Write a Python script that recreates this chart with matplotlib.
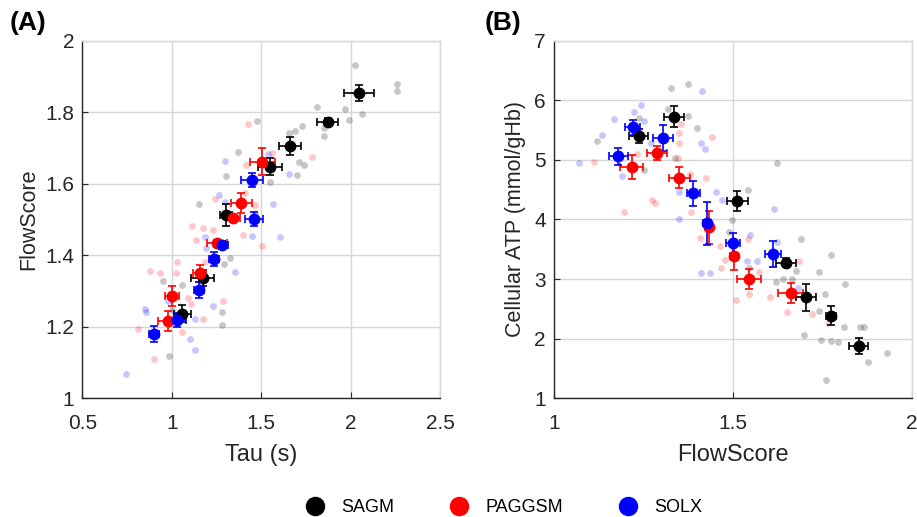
import numpy as np
import matplotlib
matplotlib.use("Agg")
import matplotlib.pyplot as plt
from matplotlib.lines import Line2D

plt.rcParams['font.family'] = ['Liberation Sans', 'DejaVu Sans']

groups = ['SAGM', 'PAGGSM', 'SOLX']
colors = ['#000000', '#ff0000', '#0000ff']

# ---- Panel A: Tau (s) vs FlowScore, group means with SEM ----
a_tau = {
    'SAGM':   [2.047, 1.871, 1.662, 1.552, 1.302, 1.172, 1.060],
    'PAGGSM': [1.506, 1.390, 1.343, 1.254, 1.157, 1.000, 0.979],
    'SOLX':   [1.450, 1.459, 1.282, 1.239, 1.155, 1.032, 0.901],
}
a_tau_err = {
    'SAGM':   [0.084, 0.058, 0.062, 0.067, 0.033, 0.065, 0.047],
    'PAGGSM': [0.069, 0.056, 0.037, 0.056, 0.037, 0.040, 0.056],
    'SOLX':   [0.062, 0.052, 0.034, 0.028, 0.028, 0.047, 0.028],
}
a_fs = {
    'SAGM':   [1.853, 1.773, 1.706, 1.648, 1.512, 1.336, 1.237],
    'PAGGSM': [1.662, 1.547, 1.503, 1.433, 1.349, 1.287, 1.217],
    'SOLX':   [1.610, 1.501, 1.428, 1.390, 1.303, 1.219, 1.180],
}
a_fs_err = {
    'SAGM':   [0.023, 0.010, 0.025, 0.023, 0.030, 0.023, 0.023],
    'PAGGSM': [0.037, 0.028, 0.010, 0.010, 0.023, 0.028, 0.028],
    'SOLX':   [0.019, 0.019, 0.011, 0.020, 0.023, 0.019, 0.023],
}

# individual samples, panel A
a_ind_tau = {
    'SAGM': [2.022, 2.257, 2.257, 2.065, 1.970, 1.991, 1.813, 1.851, 1.851, 1.729,
             1.690, 1.657, 1.709, 1.741, 1.703, 1.476, 1.368, 1.302, 1.552, 1.153,
             1.328, 1.291, 1.280, 1.280, 0.987, 1.056, 0.951, 1.004],
    'PAGGSM': [1.429, 1.784, 1.416, 1.558, 1.244, 1.463, 1.463, 1.229, 1.175, 1.116,
               1.134, 1.396, 1.504, 1.188, 1.032, 0.881, 0.937, 1.021, 1.287, 1.093,
               1.172, 0.812, 0.903, 1.058, 1.110, 1.412],
    'SOLX': [1.297, 1.265, 1.653, 1.569, 1.537, 1.608, 1.446, 1.188, 1.353, 1.231,
             1.129, 1.104, 1.129, 0.849, 0.854, 0.744, 0.981, 1.300, 1.194],
}
a_ind_fs = {
    'SAGM': [1.932, 1.879, 1.859, 1.796, 1.810, 1.779, 1.815, 1.757, 1.733, 1.761,
             1.747, 1.742, 1.660, 1.652, 1.624, 1.776, 1.690, 1.623, 1.606, 1.543,
             1.391, 1.375, 1.241, 1.206, 1.118, 1.316, 1.329, 1.247],
    'PAGGSM': [1.768, 1.676, 1.652, 1.685, 1.557, 1.541, 1.519, 1.470, 1.476, 1.483,
               1.442, 1.457, 1.427, 1.380, 1.380, 1.355, 1.349, 1.349, 1.273, 1.280,
               1.221, 1.194, 1.110, 1.186, 1.264, 1.573],
    'SOLX': [1.664, 1.569, 1.626, 1.543, 1.682, 1.450, 1.453, 1.451, 1.353, 1.259,
             1.223, 1.167, 1.134, 1.251, 1.240, 1.069, 1.272, 1.550, 1.419],
}

# ---- Panel B: FlowScore vs Cellular ATP, group means with SEM ----
b_fs = {
    'SAGM':   [1.336, 1.237, 1.513, 1.648, 1.705, 1.774, 1.852],
    'PAGGSM': [1.217, 1.287, 1.351, 1.433, 1.504, 1.546, 1.662],
    'SOLX':   [1.220, 1.304, 1.180, 1.390, 1.429, 1.500, 1.613],
}
b_fs_err = {
    'SAGM':   [0.028, 0.026, 0.030, 0.028, 0.028, 0.014, 0.026],
    'PAGGSM': [0.033, 0.028, 0.028, 0.011, 0.011, 0.033, 0.035],
    'SOLX':   [0.020, 0.028, 0.026, 0.019, 0.011, 0.019, 0.023],
}
b_atp = {
    'SAGM':   [5.725, 5.406, 4.310, 3.275, 2.693, 2.386, 1.877],
    'PAGGSM': [4.875, 5.121, 4.701, 3.868, 3.393, 3.001, 2.761],
    'SOLX':   [5.546, 5.361, 5.059, 4.438, 3.935, 3.600, 3.421],
}
b_atp_err = {
    'SAGM':   [0.18, 0.12, 0.17, 0.08, 0.23, 0.16, 0.14],
    'PAGGSM': [0.20, 0.12, 0.18, 0.28, 0.24, 0.16, 0.17],
    'SOLX':   [0.12, 0.22, 0.14, 0.21, 0.36, 0.18, 0.22],
}

# individual samples, panel B
b_ind_fs = {
    'SAGM': [1.326, 1.374, 1.318, 1.376, 1.399, 1.239, 1.121, 1.252, 1.338, 1.623,
             1.543, 1.499, 1.490, 1.690, 1.775, 1.742, 1.676, 1.666, 1.640, 1.621,
             1.814, 1.757, 1.741, 1.810, 1.857, 1.867, 1.698, 1.746, 1.774, 1.795,
             1.931, 1.879, 1.760, 1.546],
    'PAGGSM': [1.111, 1.195, 1.274, 1.282, 1.231, 1.349, 1.349, 1.355, 1.348, 1.442,
               1.425, 1.379, 1.384, 1.408, 1.464, 1.466, 1.478, 1.509, 1.542, 1.545,
               1.573, 1.605, 1.652, 1.684, 1.721, 1.767],
    'SOLX': [1.069, 1.135, 1.168, 1.225, 1.242, 1.251, 1.272, 1.191, 1.414, 1.411,
             1.421, 1.350, 1.350, 1.452, 1.469, 1.410, 1.435, 1.549, 1.569, 1.541,
             1.616, 1.625, 1.681],
}
b_ind_atp = {
    'SAGM': [6.200, 6.273, 5.848, 5.736, 5.540, 5.708, 5.322, 4.830, 5.026, 4.942,
             4.489, 3.985, 3.795, 3.672, 3.404, 3.113, 3.130, 3.007, 3.007, 2.945,
             2.917, 2.744, 2.470, 2.190, 2.201, 2.201, 2.062, 1.978, 1.967, 1.950,
             1.754, 1.609, 1.301, 3.180],
    'PAGGSM': [4.970, 4.125, 4.327, 4.271, 5.098, 5.456, 5.277, 5.602, 5.026, 5.378,
               4.690, 4.768, 4.120, 3.683, 3.555, 3.180, 3.320, 2.649, 3.672, 2.744,
               3.124, 2.693, 2.453, 3.303, 2.408, 2.257],
    'SOLX': [4.953, 5.411, 5.691, 5.809, 5.915, 5.658, 5.289, 4.729, 6.155, 5.289,
             5.188, 4.002, 4.466, 4.466, 4.327, 3.096, 3.107, 3.739, 3.303, 3.303,
             4.170, 3.628, 2.845],
}

fig = plt.figure(figsize=(9.17, 5.17), dpi=100)
axA = fig.add_axes([0.0898, 0.2296, 0.390, 0.6917])
axB = fig.add_axes([0.6041, 0.2296, 0.390, 0.6917])

TXT = '#262626'


def draw(ax, ix, iy, mx, mxe, my, mye):
    for g, c in zip(groups, colors):
        ax.scatter(ix[g], iy[g], s=24, color=c, alpha=0.22, linewidths=0, zorder=2)
    for g, c in zip(groups, colors):
        ax.errorbar(mx[g], my[g], xerr=mxe[g], yerr=mye[g], fmt='o', color=c,
                    markersize=7.5, elinewidth=1.2, capsize=3, capthick=1.2, zorder=3)


def style(ax):
    ax.grid(True, color='#d6d6d6', linewidth=1.0)
    ax.set_axisbelow(True)
    ax.tick_params(direction='in', length=4, labelsize=15, colors=TXT,
                   top=False, right=False)
    ax.tick_params(axis='x', pad=11)
    ax.tick_params(axis='y', pad=6)
    for s in ['left', 'bottom']:
        ax.spines[s].set_color(TXT)
        ax.spines[s].set_linewidth(1.0)
    for s in ['top', 'right']:
        ax.spines[s].set_color('#d6d6d6')
        ax.spines[s].set_linewidth(1.0)


draw(axA, a_ind_tau, a_ind_fs, a_tau, a_tau_err, a_fs, a_fs_err)
axA.set_xlim(0.5, 2.5)
axA.set_ylim(1, 2)
axA.set_xticks([0.5, 1, 1.5, 2, 2.5])
axA.set_xticklabels(['0.5', '1', '1.5', '2', '2.5'])
axA.set_yticks([1, 1.2, 1.4, 1.6, 1.8, 2])
axA.set_yticklabels(['1', '1.2', '1.4', '1.6', '1.8', '2'])
axA.set_xlabel('Tau (s)', fontsize=17, color=TXT, labelpad=8)
axA.set_ylabel('FlowScore', fontsize=15.5, color=TXT, labelpad=4)
style(axA)

draw(axB, b_ind_fs, b_ind_atp, b_fs, b_fs_err, b_atp, b_atp_err)
axB.set_xlim(1, 2)
axB.set_ylim(1, 7)
axB.set_xticks([1, 1.5, 2])
axB.set_xticklabels(['1', '1.5', '2'])
axB.set_yticks(range(1, 8))
axB.set_xlabel('FlowScore', fontsize=17, color=TXT, labelpad=8)
axB.set_ylabel('Cellular ATP (mmol/gHb)', fontsize=15.5, color=TXT, labelpad=6)
style(axB)

fig.text(0.011, 0.955, '(A)', fontsize=19, fontweight='bold', va='center')
fig.text(0.528, 0.955, '(B)', fontsize=19, fontweight='bold', va='center')

handles = [Line2D([], [], marker='o', linestyle='none', color=c, markersize=13)
           for c in colors]
fig.legend(handles, groups, loc='center', bbox_to_anchor=(0.55, 0.018), ncol=3,
           frameon=False, fontsize=13, handlelength=1.0, handletextpad=0.95,
           columnspacing=3.1)

fig.savefig('out.png', dpi=100)
